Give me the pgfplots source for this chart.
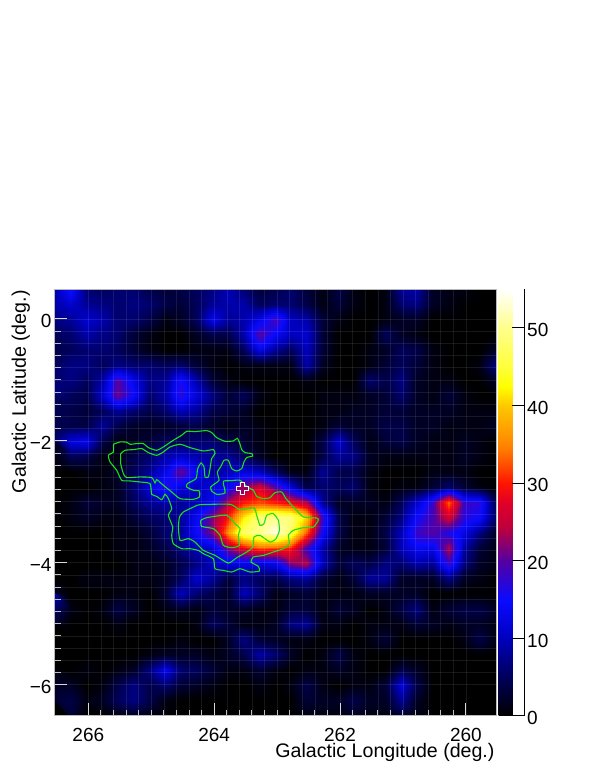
\documentclass[border=0pt]{standalone}
\usepackage{fontspec}
\setmainfont{Liberation Sans}
\usepackage{pgfplots}
\usepgfplotslibrary{patchplots}
\pgfplotsset{compat=1.18}

\pgfplotsset{
  colormap={rootmap}{
    rgb255(0pt)=(0,0,0) rgb255(50pt)=(0,0,90) rgb255(100pt)=(0,0,190)
    rgb255(149pt)=(10,10,255) rgb255(200pt)=(85,0,160) rgb255(243pt)=(190,0,60)
    rgb255(275pt)=(225,0,40) rgb255(300pt)=(255,20,0) rgb255(320pt)=(255,70,0)
    rgb255(347pt)=(255,130,0) rgb255(400pt)=(255,200,0) rgb255(424pt)=(255,255,0)
    rgb255(450pt)=(255,255,60) rgb255(500pt)=(255,255,140) rgb255(550pt)=(255,255,255)
  }
}
\definecolor{contourgreen}{RGB}{20,225,20}
\definecolor{crosscore}{RGB}{150,0,100}

\begin{document}
\begin{tikzpicture}
\path[use as bounding box] (0,0) rectangle (595pt,770pt);
\begin{axis}[
    at={(55pt,54.3pt)}, anchor=south west,
    width=441.7pt, height=426.7pt, scale only axis,
    x dir=reverse,
    xmin=259.51, xmax=266.53, ymin=-6.51, ymax=0.49,
    axis on top,
    axis background/.style={fill=black},
    font=\fontsize{19.6}{21}\selectfont,
    xtick={260,262,264,266}, xticklabels={260,262,264,266},
    ytick={-6,-4,-2,0}, yticklabels={−6,−4,−2,0},
    xtick pos=bottom, ytick pos=left,
    minor x tick num=9, minor y tick num=9,
    tick align=inside,
    major tick length=12.5pt, minor tick length=6pt,
    tick style={white!85!black, line width=0.9pt},
    minor tick style={white!75!black, line width=0.9pt},
    grid=both,
    grid style={white, opacity=0.09, line width=0.5pt},
    minor grid style={white, opacity=0.09, line width=0.5pt},
    axis line style={white!72!black, line width=1pt},
    xticklabel style={inner sep=0pt, yshift=-12.5pt},
    yticklabel style={yshift=-2pt},
    tick label style={font=\fontsize{19}{20}\selectfont},
    xlabel={Galactic Longitude (deg.)},
    ylabel={Galactic Latitude (deg.)},
    every axis x label/.style={at={(axis description cs:1.003,-0.098)}, anchor=base east},
    every axis y label/.style={at={(axis description cs:-0.066,1.005)}, rotate=90, anchor=base east},
    colormap name=rootmap,
    point meta min=0, point meta max=55,
    colorbar,
    colorbar style={
      at={(1.0045,0)}, anchor=south west,
      width=26pt, height=426.7pt,
      ytick={0,10,20,30,40,50}, yticklabels={0,10,20,30,40,50},
      yticklabel pos=right,
      tick align=inside,
      major tick length=13pt,
      tick style={black, line width=0.8pt},
      axis y line*=right,
      axis x line=none,
      y axis line style={-,black,line width=0.8pt},
      yticklabel style={font=\fontsize{19}{20}\selectfont, xshift=-1pt, yshift=-2.5pt},
    },
]
% one value per node: rows from b=0.49 down to b=-6.51,
% columns from l=266.53 down to l=259.53, step 0.25 deg
\addplot[surf, shader=interp, patch type=bilinear, mesh/cols=29, point meta=\thisrowno{0}]
  table[row sep=crcr, header=false,
        x expr={266.53-0.25*mod(\coordindex,29)},
        y expr={0.49-0.25*floor(\coordindex/29)}] {
9\\16\\6\\5\\6\\6\\4\\3\\4\\5\\7\\10\\6\\3\\4\\6\\3\\1\\4\\1\\0\\1\\8\\9\\2\\1\\1\\0\\0\\
9\\11\\8\\7\\6\\7\\6\\4\\3\\5\\8\\9\\9\\5\\6\\6\\4\\1\\3\\1\\0\\1\\6\\7\\2\\1\\0\\0\\0\\
7\\8\\11\\9\\6\\6\\4\\1\\2\\5\\13\\8\\9\\13\\19\\10\\9\\3\\1\\0\\0\\1\\2\\2\\0\\0\\0\\0\\0\\
5\\6\\9\\7\\6\\3\\1\\0\\0\\2\\4\\4\\9\\20\\14\\10\\11\\3\\0\\0\\0\\5\\2\\1\\0\\0\\0\\0\\0\\
4\\5\\6\\6\\5\\3\\1\\0\\0\\1\\1\\1\\5\\13\\8\\5\\10\\3\\0\\0\\1\\2\\5\\4\\1\\0\\0\\0\\2\\
5\\7\\7\\5\\7\\6\\6\\5\\6\\3\\1\\0\\1\\1\\1\\1\\9\\2\\0\\0\\1\\3\\5\\3\\1\\0\\0\\1\\7\\
6\\7\\5\\9\\20\\13\\7\\8\\16\\9\\3\\1\\0\\0\\0\\0\\1\\0\\0\\0\\6\\4\\7\\2\\1\\1\\0\\0\\2\\
7\\5\\4\\11\\21\\15\\6\\9\\17\\12\\7\\3\\5\\1\\0\\0\\0\\1\\1\\1\\2\\3\\6\\2\\1\\3\\1\\0\\0\\
5\\4\\3\\5\\8\\6\\4\\6\\10\\8\\4\\3\\2\\0\\0\\0\\0\\1\\1\\2\\2\\3\\3\\2\\2\\2\\1\\1\\1\\
4\\4\\4\\8\\4\\2\\2\\2\\3\\4\\2\\1\\2\\1\\0\\0\\0\\1\\3\\2\\2\\4\\4\\2\\2\\1\\1\\1\\2\\
6\\12\\13\\4\\1\\2\\3\\5\\5\\6\\6\\4\\3\\1\\0\\0\\0\\4\\11\\5\\1\\3\\4\\2\\1\\1\\2\\1\\0\\
2\\5\\4\\1\\1\\4\\6\\9\\11\\9\\8\\8\\5\\2\\0\\0\\0\\4\\8\\7\\2\\1\\1\\1\\1\\1\\2\\1\\0\\
0\\0\\1\\1\\2\\5\\8\\13\\21\\14\\8\\10\\12\\10\\5\\1\\1\\8\\4\\4\\1\\0\\0\\0\\1\\1\\1\\0\\0\\
0\\0\\0\\1\\2\\6\\12\\17\\12\\10\\12\\14\\22\\27\\20\\12\\4\\6\\5\\6\\1\\0\\1\\1\\3\\6\\3\\1\\0\\
0\\1\\3\\2\\2\\5\\8\\9\\8\\10\\14\\24\\30\\32\\30\\28\\24\\8\\2\\2\\2\\1\\5\\11\\18\\33\\18\\17\\4\\
0\\1\\2\\1\\1\\3\\5\\6\\8\\14\\22\\30\\42\\49\\50\\49\\40\\18\\4\\1\\1\\3\\7\\15\\19\\26\\17\\15\\5\\
0\\0\\0\\0\\1\\1\\3\\6\\8\\15\\22\\36\\48\\50\\54\\47\\33\\15\\4\\1\\1\\4\\10\\18\\20\\16\\13\\7\\2\\
0\\0\\0\\0\\1\\1\\2\\4\\7\\10\\11\\22\\28\\33\\32\\30\\18\\9\\2\\1\\1\\3\\10\\14\\13\\24\\9\\3\\1\\
0\\0\\0\\0\\0\\1\\1\\2\\4\\7\\10\\12\\13\\12\\13\\22\\24\\10\\3\\5\\4\\7\\6\\9\\8\\18\\7\\2\\1\\
0\\0\\1\\1\\1\\1\\1\\2\\5\\11\\8\\3\\7\\5\\4\\7\\8\\3\\1\\3\\8\\8\\2\\2\\2\\7\\2\\1\\0\\
2\\0\\0\\0\\1\\1\\0\\3\\10\\6\\4\\2\\10\\6\\1\\2\\3\\1\\1\\1\\2\\2\\2\\2\\0\\0\\0\\0\\0\\
9\\1\\0\\1\\4\\2\\0\\1\\2\\1\\3\\2\\2\\1\\1\\3\\3\\1\\3\\2\\0\\1\\4\\7\\1\\3\\4\\4\\2\\
2\\0\\0\\0\\1\\0\\0\\0\\0\\1\\5\\3\\1\\1\\2\\7\\8\\1\\1\\0\\1\\1\\1\\3\\2\\1\\2\\2\\1\\
0\\0\\0\\0\\0\\0\\0\\0\\1\\0\\0\\2\\7\\3\\2\\1\\1\\0\\0\\0\\1\\3\\0\\0\\0\\0\\1\\4\\1\\
0\\0\\0\\0\\0\\0\\1\\2\\2\\2\\1\\2\\4\\9\\6\\2\\0\\1\\4\\1\\0\\0\\0\\0\\0\\0\\0\\0\\0\\
0\\0\\1\\0\\1\\2\\7\\13\\6\\5\\3\\1\\1\\3\\1\\0\\1\\1\\2\\1\\0\\0\\4\\2\\0\\0\\0\\0\\0\\
1\\2\\0\\1\\4\\7\\4\\6\\3\\2\\1\\0\\0\\1\\0\\1\\4\\1\\0\\1\\1\\3\\12\\4\\0\\0\\0\\0\\0\\
3\\4\\1\\2\\5\\7\\4\\1\\0\\0\\0\\0\\0\\0\\0\\0\\3\\2\\2\\4\\2\\2\\8\\2\\0\\0\\0\\0\\0\\
2\\3\\0\\0\\1\\2\\1\\0\\0\\0\\0\\0\\0\\0\\0\\0\\1\\1\\1\\2\\1\\1\\3\\1\\0\\0\\0\\0\\0\\
};

\addplot[contourgreen, line width=1.1pt, smooth, tension=0.35, forget plot] coordinates {
(265.602,-2.057)(265.496,-2.019)(265.390,-2.024)(265.337,-2.057)(265.231,-2.046)(265.125,-2.046)
(265.046,-2.112)(264.914,-2.156)(264.808,-2.101)(264.649,-1.991)(264.516,-1.909)(264.437,-1.844)
(264.305,-1.849)(264.119,-1.833)(264.040,-1.866)(263.960,-1.948)(263.828,-2.008)(263.695,-2.002)
(263.632,-1.959)(263.589,-2.057)(263.563,-2.145)(263.510,-2.194)(263.404,-2.210)(263.388,-2.249)
(263.483,-2.276)(263.526,-2.347)(263.563,-2.457)(263.642,-2.495)(263.722,-2.457)(263.775,-2.320)
(263.844,-2.320)(263.897,-2.429)(263.950,-2.511)(263.923,-2.648)(263.987,-2.703)(264.056,-2.758)
(264.040,-2.823)(263.960,-2.878)(263.828,-2.856)(263.854,-2.703)(263.844,-2.659)(263.722,-2.654)
(263.589,-2.648)(263.473,-2.758)(263.378,-2.812)(263.325,-2.911)(263.219,-2.949)(263.113,-2.933)
(263.033,-2.851)(262.927,-2.840)(262.858,-2.949)(262.716,-3.113)(262.583,-3.250)(262.371,-3.267)
(262.345,-3.305)(262.424,-3.415)(262.583,-3.426)(262.742,-3.469)(262.821,-3.551)(262.805,-3.688)
(262.901,-3.770)(263.060,-3.825)(263.219,-3.880)(263.378,-3.907)(263.415,-3.989)(263.298,-4.060)
(263.282,-4.137)(263.431,-4.153)(263.589,-4.099)(263.722,-4.153)(263.854,-4.126)(263.987,-4.099)
(264.013,-3.935)(264.172,-3.852)(264.252,-3.798)(264.384,-3.770)(264.516,-3.770)(264.649,-3.688)
(264.675,-3.551)(264.659,-3.415)(264.728,-3.223)(264.675,-3.113)(264.728,-2.949)(264.781,-2.878)
(264.834,-2.966)(264.914,-2.911)(264.993,-2.878)(265.020,-2.703)(265.178,-2.676)(265.337,-2.659)
(265.470,-2.648)(265.549,-2.484)(265.655,-2.347)(265.682,-2.238)(265.602,-2.183)(265.602,-2.057)
};
\addplot[contourgreen, line width=1.1pt, smooth, tension=0.35, forget plot] coordinates {
(265.486,-2.210)(265.417,-2.156)(265.284,-2.145)(265.152,-2.128)(265.046,-2.194)(264.914,-2.238)
(264.808,-2.183)(264.702,-2.101)(264.543,-2.057)(264.384,-2.112)(264.172,-2.167)(264.013,-2.145)
(263.987,-2.210)(264.040,-2.292)(264.066,-2.457)(264.093,-2.593)(264.146,-2.593)(264.162,-2.429)
(264.209,-2.364)(264.262,-2.457)(264.289,-2.621)(264.426,-2.703)(264.437,-2.758)(264.331,-2.812)
(264.236,-2.823)(264.236,-2.922)(264.331,-2.960)(264.543,-2.949)(264.675,-2.840)(264.808,-2.730)
(264.914,-2.637)(264.940,-2.692)(264.993,-2.604)(265.178,-2.593)(265.390,-2.604)(265.443,-2.539)
(265.486,-2.375)(265.486,-2.210)
};
\addplot[contourgreen, line width=1.1pt, smooth, tension=0.35, forget plot] coordinates {
(264.553,-3.250)(264.490,-3.168)(264.305,-3.075)(264.225,-3.048)(263.749,-3.042)(263.590,-3.130)
(263.367,-3.102)(263.325,-3.223)(263.272,-3.387)(263.209,-3.360)(263.166,-3.223)(263.060,-3.196)
(262.980,-3.305)(262.964,-3.469)(263.017,-3.606)(263.113,-3.661)(263.272,-3.551)(263.367,-3.579)
(263.388,-3.743)(263.483,-3.825)(263.642,-3.918)(263.775,-4.006)(263.987,-3.880)(264.172,-3.798)
(264.305,-3.661)(264.410,-3.606)(264.543,-3.633)(264.569,-3.415)(264.553,-3.250)
};
\addplot[contourgreen, line width=1.1pt, smooth, tension=0.35, forget plot] coordinates {
(264.214,-3.305)(264.119,-3.261)(263.801,-3.223)(263.669,-3.360)(263.589,-3.442)(263.616,-3.551)
(263.600,-3.716)(263.722,-3.754)(263.854,-3.716)(263.907,-3.551)(264.013,-3.442)(264.199,-3.404)
(264.214,-3.305)
};
% hollow cross marking the pulsar position
\addplot[only marks, mark=+, mark size=6.6pt, mark options={white, line width=4.6pt}, forget plot]
  coordinates {(263.547,-2.785)};
\addplot[only marks, mark=+, mark size=5.5pt, mark options={crosscore, line width=2.6pt}, forget plot]
  coordinates {(263.547,-2.785)};
\draw[black!75, line width=0.8pt] (rel axis cs:0,1) -- (rel axis cs:1,1);
\end{axis}
\end{tikzpicture}
\end{document}
